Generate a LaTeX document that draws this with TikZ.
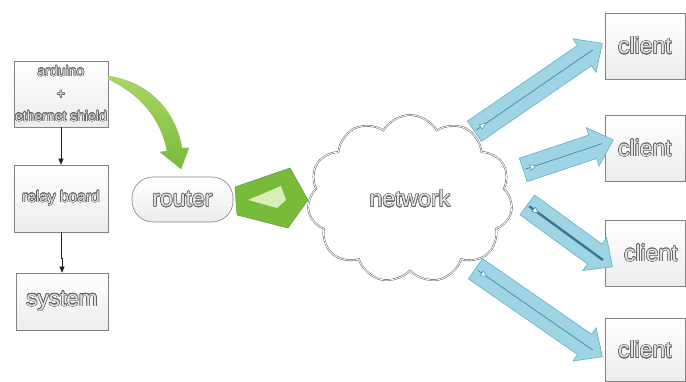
\documentclass[tikz,border=0pt]{standalone}
\usepackage{fontspec}
\setmainfont{Liberation Sans}
\usepackage{contour}
\usetikzlibrary{arrows.meta,calc,shapes.symbols,shapes.arrows,decorations.markings}

\definecolor{boxedge}{HTML}{828282}
\definecolor{textedge}{HTML}{606060}
\definecolor{greenlight}{HTML}{A8D862}
\definecolor{greendark}{HTML}{78BA3A}
\definecolor{greenedge}{HTML}{5E9E2E}
\definecolor{bluefill}{HTML}{9ED4E4}
\definecolor{blueedge}{HTML}{62AFC7}
\definecolor{blueline}{HTML}{3F8EA8}

\contourlength{0.55pt}
\newcommand{\hollow}[1]{\contour{textedge}{#1}}

\tikzset{
  box/.style={draw=boxedge, line width=0.6pt, top color=white, bottom color=gray!15, text=gray!20, inner sep=0pt},
  client/.style={box, minimum width=80, minimum height=66, font=\fontsize{23}{26}\selectfont},
  router/.style={box, rounded corners=21pt, minimum width=101, minimum height=45, font=\fontsize{23}{26}\selectfont},
  netcloud/.style={cloud, cloud puffs=11, cloud puff arc=120, minimum width=205, minimum height=168, draw=gray!55!black, double=white, double distance=0.9pt, line width=0.4pt, fill=white, text=gray!20, font=\fontsize{23}{26}\selectfont},
  link/.style={draw=gray!25!black, line width=0.5pt, -{Triangle[length=6pt,width=5pt]}},
  greenshape/.style={fill=greendark, draw=greenedge, line width=0.5pt, line join=round},
  flowbody/.style={single arrow, draw=blueedge, fill=bluefill, line width=0.6pt, inner xsep=0pt, inner ysep=12pt, outer sep=0pt, single arrow head extend=8, single arrow tip angle=86},
  flowline/.style={draw=blueline, line width=0.7pt,
    decoration={markings, mark=at position 12pt with {\arrow{Triangle[length=7pt,width=6pt,fill=white,line width=0.5pt]}}},
    postaction=decorate},
}

% fat arrow from #3 to #4, named #2
\newcommand{\flowarrow}[4][]{%
  \path let \p1=($(#4)-(#3)$), \n1={atan2(\y1,\x1)}, \n2={veclen(\x1,\y1)} in
    node[flowbody, rotate=\n1, minimum height=\n2] (#2) at ($(#3)!0.5!(#4)$) {};
  \draw[flowline, #1] ($(#3)!9pt!(#4)$) -- ($(#4)!5pt!(#3)$);
}

\begin{document}
\begin{tikzpicture}[x=1pt,y=-1pt]

\useasboundingbox (0,0) rectangle (686,382);

% left column
\node[box, minimum width=94, minimum height=66, align=center, font=\fontsize{14}{22.5}\selectfont] (arduino) at (61,94) {\hollow{arduino}\\\hollow{+}\\\hollow{ethernet shield}};
\node[box, minimum width=94, minimum height=67, font=\fontsize{15.5}{18}\selectfont] (relay) at (61,198.5) {\hollow{relay board}};
\node[box, minimum width=92, minimum height=57, font=\fontsize{22.5}{26}\selectfont] (system) at (62,301.5) {\hollow{system}};

\draw[link] (arduino) -- (relay);
\draw[link] (relay.south) -- ++(0,26) -| (system.north);

% router and network
\node[router] (router) at (182.5,199.5) {\hollow{router}};
\node[netcloud] (net) at (410,199) {\hollow{network}};

% green arrows
\shadedraw[top color=greenlight, bottom color=greendark, draw=greenedge!70, line width=0.3pt]
  (108,76) .. controls (150,82) and (176,112) .. (182,148) -- (189,148) -- (181,169)
  -- (160,152) -- (167,151) .. controls (161,120) and (142,95) .. (108,79) -- cycle;

\filldraw[greenshape] (235,187) -- (290,168) -- (308,200) -- (288,228) -- (237,215) -- cycle;
\fill[greenlight!45!white] (248,200) -- (281,186) -- (286,200) -- (277,208) -- cycle;

% clients
\node[client] (client1) at (645,46) {\hollow{client}};
\node[client] (client2) at (645,148.5) {\hollow{client}};
\node[client] (client3) at (645,253.5) {\hspace*{12pt}\hollow{client}};
\node[client, minimum height=63] (client4) at (645,350) {\hollow{client}};

% network to clients
\coordinate (f1s) at (469,135); \coordinate (f1t) at (597,47);
\coordinate (f2s) at (517,172); \coordinate (f2t) at (607,142);
\coordinate (f3s) at (522,201); \coordinate (f3t) at (607,263);
\coordinate (f4s) at (470,265); \coordinate (f4t) at (597,353);

\flowarrow{flow1}{f1s}{f1t}
\flowarrow{flow2}{f2s}{f2t}
\flowarrow[line width=2.4pt, draw=blueline!85!black]{flow3}{f3s}{f3t}
\flowarrow{flow4}{f4s}{f4t}

\end{tikzpicture}
\end{document}
